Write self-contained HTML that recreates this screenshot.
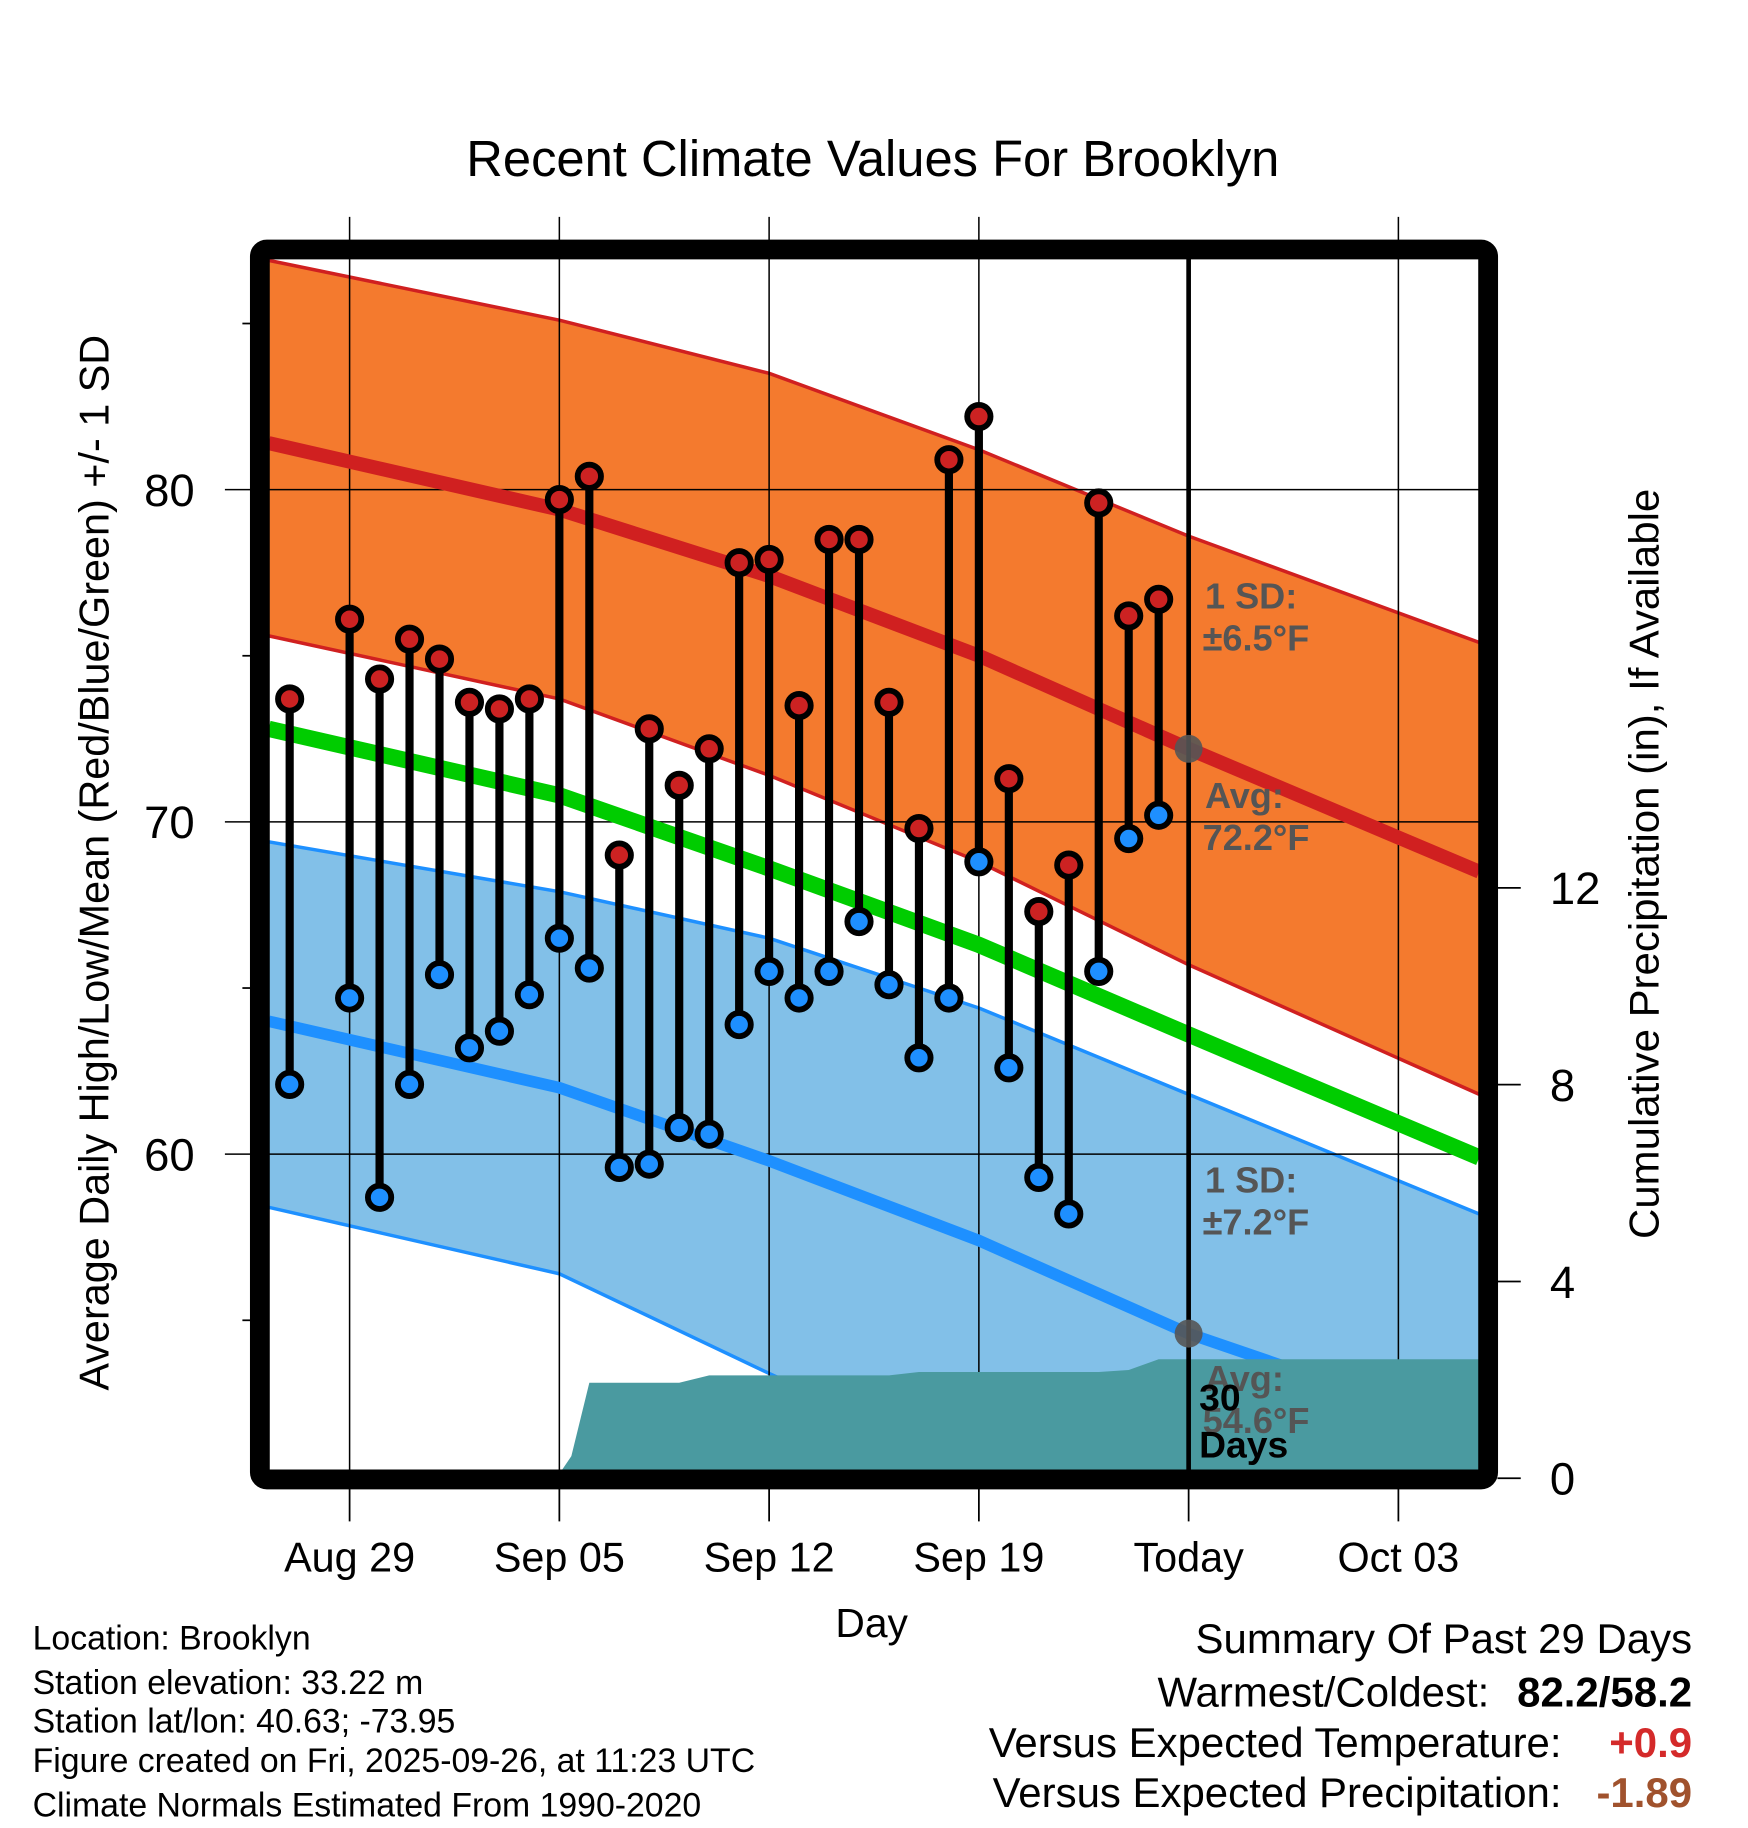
<!DOCTYPE html>
<html><head><meta charset="utf-8"><style>
html,body{margin:0;padding:0;background:#fff}
svg{display:block;font-family:"Liberation Sans",sans-serif}
</style></head><body>
<svg id="chart" width="1748" height="1828" viewBox="0 0 1500 1568" preserveAspectRatio="none" xmlns="http://www.w3.org/2000/svg">
<defs><clipPath id="pc"><rect x="231" y="222" width="1038" height="1039"/></clipPath></defs>
<text x="749" y="151" font-size="43.5" text-anchor="middle">Recent Climate Values For Brooklyn</text>
<g id="bands" clip-path="url(#pc)"></g>
<g id="grid"></g>
<g id="means" clip-path="url(#pc)"></g>
<g id="precip" clip-path="url(#pc)"></g>
<g id="ann"></g>
<g id="marks"></g>
<rect x="223" y="214" width="1054" height="1055" rx="6" fill="none" stroke="#000" stroke-width="17"/>
<g id="axes"></g>
<text x="748" y="1404" font-size="35" text-anchor="middle">Day</text>
<text transform="translate(93,740) rotate(-90)" font-size="35.5" text-anchor="middle">Average Daily High/Low/Mean (Red/Blue/Green) +/- 1 SD</text>
<text transform="translate(1423,741) rotate(-90)" font-size="36" text-anchor="middle">Cumulative Precipitation (in), If Available</text>
<g font-size="29">
<text x="28" y="1415">Location: Brooklyn</text>
<text x="28" y="1453">Station elevation: 33.22 m</text>
<text x="28" y="1486">Station lat/lon: 40.63; -73.95</text>
<text x="28" y="1520">Figure created on Fri, 2025-09-26, at 11:23 UTC</text>
<text x="28" y="1558">Climate Normals Estimated From 1990-2020</text>
</g>
<g font-size="36" text-anchor="end">
<text x="1452" y="1418">Summary Of Past 29 Days</text>
<text x="1278" y="1464">Warmest/Coldest:</text>
<text x="1452" y="1464" font-weight="bold">82.2/58.2</text>
<text x="1340" y="1507">Versus Expected Temperature:</text>
<text x="1452" y="1507" font-weight="bold" fill="#d42a2a">+0.9</text>
<text x="1340" y="1550">Versus Expected Precipitation:</text>
<text x="1452" y="1550" font-weight="bold" fill="#a0522d">-1.89</text>
</g>
</svg>
<script>
const pointDays=[-2,0,1,2,3,4,5,6,7,8,9,10,11,12,13,14,15,16,17,18,19,20,21,22,23,24,25,26,27];
const highs=[73.7,76.1,74.3,75.5,74.9,73.6,73.4,73.7,79.7,80.4,69.0,72.8,71.1,72.2,77.8,77.9,73.5,78.5,78.5,73.6,69.8,80.9,82.2,71.3,67.3,68.7,79.6,76.2,76.7];
const lows=[62.1,64.7,58.7,62.1,65.4,63.2,63.7,64.8,66.5,65.6,59.6,59.7,60.8,60.6,63.9,65.5,64.7,65.5,67.0,65.1,62.9,64.7,68.8,62.6,59.3,58.2,65.5,69.5,70.2];
const normDays=[-2.7,7,14,21,28,37.7];
const highUpper=[86.9,85.1,83.5,81.2,78.6,75.4];
const highMean=[81.4,79.4,77.4,75.0,72.2,68.5];
const highLower=[75.6,73.7,71.4,68.8,65.7,61.8];
const meanNorm=[72.8,70.8,68.6,66.3,63.6,59.9];
const lowUpper=[69.4,67.9,66.5,64.4,61.8,58.2];
const lowMean=[64.0,62.0,59.8,57.4,54.6,51.6];
const lowLower=[58.4,56.4,53.4,50.5,47.5,44.4];
const precipDays=[-2.7,6.9,7.4,8,9,11,12,18,19,25,26,27,37.7];
const precipVals=[0,0,0.45,1.94,1.94,1.94,2.09,2.09,2.16,2.16,2.2,2.42,2.42];
const xTickDays=[0,7,14,21,28,35];
const xTickLabels=["Aug 29","Sep 05","Sep 12","Sep 19","Today","Oct 03"];
const yTicks=[60,70,80];
const yMinor=[55,65,75,85];
const y2Ticks=[0,4,8,12];
const todayDay=28;

const NS="http://www.w3.org/2000/svg";
const X=d=>300+d*25.714;
const Y=v=>420+(80-v)*28.5;
const Y2=v=>1268-v*42.2;
function el(tag,attrs,parent,text){const e=document.createElementNS(NS,tag);for(const k in attrs)e.setAttribute(k,attrs[k]);if(text!=null)e.textContent=text;parent.appendChild(e);return e;}
const g=id=>document.getElementById(id);
function line(vals){return normDays.map((d,i)=>(i?'L':'M')+X(d)+','+Y(vals[i])).join('');}
function band(up,lo){let p=normDays.map((d,i)=>(i?'L':'M')+X(d)+','+Y(up[i])).join('');for(let i=normDays.length-1;i>=0;i--)p+='L'+X(normDays[i])+','+Y(lo[i]);return p+'Z';}

let e;
e=el('path',{d:band(highUpper,highLower),fill:'#f47a2e'},g('bands'));

e=el('path',{d:band(lowUpper,lowLower),fill:'#82c0e8'},g('bands'));

[[highUpper,'#d02020','high-upper-edge'],[highLower,'#d02020','high-lower-edge'],[lowUpper,'#1e90ff','low-upper-edge'],[lowLower,'#1e90ff','low-lower-edge']].forEach(a=>{
 e=el('path',{d:line(a[0]),fill:'none',stroke:a[1],'stroke-width':3},g('bands'));
 
});
xTickDays.forEach((d,i)=>{
 if(d!==todayDay){e=el('line',{x1:X(d),x2:X(d),y1:186,y2:1261,stroke:'#000','stroke-width':1.3},g('grid'));
 }
 e=el('line',{x1:X(d),x2:X(d),y1:1269,y2:1305,stroke:'#000','stroke-width':1.5},g('axes'));
 
 e=el('text',{x:X(d),y:1348,'font-size':35.5,'text-anchor':'middle'},g('axes'),xTickLabels[i]);
 
});
yTicks.forEach(v=>{
 e=el('line',{x1:193,x2:1269,y1:Y(v),y2:Y(v),stroke:'#000','stroke-width':1.3},g('grid'));
 
 e=el('text',{x:167,y:Y(v)+14,'font-size':39,'text-anchor':'end'},g('axes'),String(v));
 
});
yMinor.forEach(v=>{
 e=el('line',{x1:208,x2:215,y1:Y(v),y2:Y(v),stroke:'#000','stroke-width':1.5},g('axes'));
 
});
y2Ticks.forEach(v=>{
 e=el('line',{x1:1285,x2:1305,y1:Y2(v),y2:Y2(v),stroke:'#000','stroke-width':1.5},g('axes'));
 
 e=el('text',{x:1330,y:Y2(v)+14,'font-size':39,'text-anchor':'start'},g('axes'),String(v));
 
});
e=el('path',{d:line(highMean),fill:'none',stroke:'#d02020','stroke-width':12},g('means'));

e=el('path',{d:line(meanNorm),fill:'none',stroke:'#00cc00','stroke-width':14},g('means'));

e=el('path',{d:line(lowMean),fill:'none',stroke:'#1e90ff','stroke-width':10},g('means'));

let pp='M'+X(precipDays[0])+','+Y2(0);
precipDays.forEach((d,i)=>{pp+='L'+X(d)+','+Y2(precipVals[i]);});
pp+='L'+X(precipDays[precipDays.length-1])+','+Y2(0)+'Z';
e=el('path',{d:pp,fill:'#4a9aa0'},g('precip'));

e=el('line',{x1:X(todayDay),x2:X(todayDay),y1:222,y2:1261,stroke:'#000','stroke-width':4},g('ann'));

const ti=normDays.indexOf(todayDay);
e=el('circle',{cx:X(todayDay),cy:Y(highMean[ti]),r:12,fill:'#555','fill-opacity':0.9},g('ann'));

e=el('circle',{cx:X(todayDay),cy:Y(lowMean[ti]),r:12,fill:'#555','fill-opacity':0.9},g('ann'));

const ann=[["1 SD:",1034,522],["±6.5°F",1032,558],["Avg:",1034,693],["72.2°F",1032,729],["1 SD:",1034,1023],["±7.2°F",1032,1059],["Avg:",1034,1193],["54.6°F",1032,1229]];
ann.forEach(a=>{e=el('text',{x:a[1],y:a[2],'font-size':31,'font-weight':'bold',fill:'#555'},g('ann'),a[0]);
 });
e=el('text',{x:1029,y:1210,'font-size':32,'font-weight':'bold'},g('ann'),'30');

e=el('text',{x:1029,y:1250,'font-size':32,'font-weight':'bold'},g('ann'),'Days');

pointDays.forEach((d,i)=>{
 e=el('line',{x1:X(d),x2:X(d),y1:Y(highs[i]),y2:Y(lows[i]),stroke:'#000','stroke-width':7},g('marks'));
 
 e=el('circle',{cx:X(d),cy:Y(highs[i]),r:10,fill:'#cc2222',stroke:'#000','stroke-width':5},g('marks'));
 
 e=el('circle',{cx:X(d),cy:Y(lows[i]),r:10,fill:'#1e8fff',stroke:'#000','stroke-width':5},g('marks'));
 
});
</script>
</body></html>
